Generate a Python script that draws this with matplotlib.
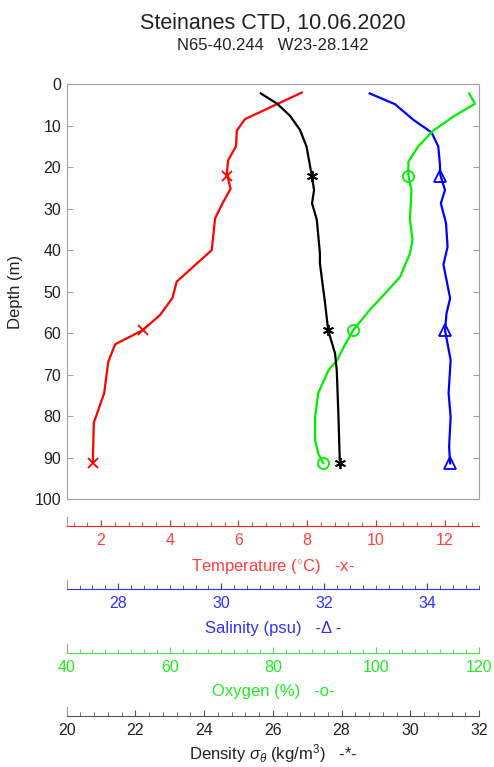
import numpy as np
import matplotlib
matplotlib.use("Agg")
import matplotlib.pyplot as plt
from matplotlib.ticker import MultipleLocator

plt.rcParams['font.family'] = ['Liberation Sans', 'DejaVu Sans']
plt.rcParams['mathtext.fontset'] = 'custom'
plt.rcParams['mathtext.rm'] = 'Liberation Sans'
plt.rcParams['mathtext.it'] = 'Liberation Sans:italic'

# =========================
# DATA
# =========================
temp_depth = [2, 8.4, 11.2, 14.9, 18.3, 21.5, 25.2, 28.3, 32.3, 40, 47.6, 51.5,
              55.6, 59.3, 62.7, 66.9, 74.5, 81.6, 91]
temp_val = [7.84, 6.19, 5.95, 5.93, 5.70, 5.66, 5.77, 5.56, 5.32, 5.22, 4.20, 4.08,
            3.72, 3.21, 2.41, 2.21, 2.09, 1.79, 1.76]

sal_depth = [2.2, 4.8, 8.6, 11.6, 15.0, 19.1, 21.9, 25.5, 28.7, 33.5, 39.2, 43.5,
             51.6, 55.2, 59.3, 66.5, 74.5, 80.2, 87.4, 91.4]
sal_val = [32.88, 33.37, 33.73, 34.08, 34.21, 34.24, 34.25, 34.34, 34.26, 34.36, 34.39, 34.31,
           34.44, 34.37, 34.34, 34.45, 34.41, 34.45, 34.42, 34.44]

oxy_depth = [2.2, 4.7, 7.8, 11.2, 15.0, 18.7, 21.9, 25.5, 32.7, 37.5, 40.8, 46.4,
             50.0, 54.4, 59.3, 63.0, 66.5, 68.9, 74.5, 80.2, 85.8, 89.0, 91.4]
oxy_val = [118.1, 119.2, 115.0, 111.1, 108.2, 106.3, 106.3, 106.9, 106.6, 107.1, 106.6, 104.7,
           102.1, 98.8, 95.6, 93.9, 92.5, 90.8, 88.8, 88.2, 88.2, 88.8, 89.8]

dens_depth = [2.2, 4.7, 7.6, 11.0, 15.0, 21.9, 25.5, 28.7, 32.7, 40.8, 43.2, 52.8,
              59.3, 64.9, 68.9, 80.2, 91.4]
dens_val = [25.65, 26.13, 26.50, 26.79, 26.98, 27.13, 27.20, 27.14, 27.28, 27.37, 27.37, 27.52,
            27.61, 27.81, 27.86, 27.91, 27.95]

# bottle / marker samples
sample_depth = [22, 59.3, 91.2]
sample_temp = [5.66, 3.21, 1.76]
sample_sal = [34.25, 34.34, 34.44]
sample_oxy = [106.3, 95.6, 89.8]
sample_dens = [27.13, 27.61, 27.95]

temp_lim = (1, 13)
sal_lim = (27, 35)
oxy_lim = (40, 120)
dens_lim = (20, 32)

# =========================
# FIGURE
# =========================
W, H = 494, 767
fig = plt.figure(figsize=(W / 100, H / 100), dpi=100)

x0, x1 = 66.7, 479
y_top, y_bot = 84.3, 499

def fx(px):
    return px / W

def fy(py):
    return 1 - py / H

grey = '#a0a0a0'
ax = fig.add_axes([fx(x0), fy(y_bot), fx(x1 - x0), (y_bot - y_top) / H])
ax.set_ylim(100, 0)
ax.set_xlim(*temp_lim)
ax.set_xticks([])
ax.set_yticks(np.arange(0, 101, 10))
ax.tick_params(axis='y', direction='in', length=4, color=grey, left=True, right=True,
               labelsize=11.5, labelcolor='#222222', pad=4)
for s in ax.spines.values():
    s.set_color(grey)
ax.set_ylabel('Depth (m)', fontsize=12, color='#222222', labelpad=8)

# twin axes for each parameter, all sharing depth
ax_s = ax.twiny()
ax_o = ax.twiny()
ax_d = ax.twiny()
for a, lim in [(ax_s, sal_lim), (ax_o, oxy_lim), (ax_d, dens_lim)]:
    a.set_xlim(*lim)
    a.set_xticks([])
    a.axis('off')

lw = 1.6
ax.plot(temp_val, temp_depth, color='#ff0000', lw=lw)
ax.plot(sample_temp, sample_depth, 'x', color='#ff0000', ms=7, mew=1.3)
ax_s.plot(sal_val, sal_depth, color='#0000ff', lw=lw)
ax_s.plot(sample_sal, sample_depth, '^', color='#0000ff', mfc='none', ms=8, mew=1.3)
ax_o.plot(oxy_val, oxy_depth, color='#00ee00', lw=lw)
ax_o.plot(sample_oxy, sample_depth, 'o', color='#00ee00', mfc='none', ms=8, mew=1.3)
ax_d.plot(dens_val, dens_depth, color='black', lw=lw)
ax_d.plot(sample_dens, sample_depth, marker=(6, 2, 0), ls='none', color='black', ms=8, mew=1.3)

fig.text(fx((x0 + x1) / 2), fy(24), 'Steinanes CTD, 10.06.2020', ha='center', va='center',
         fontsize=15.5, color='#222222')
fig.text(fx((x0 + x1) / 2), fy(45), 'N65-40.244   W23-28.142', ha='center', va='center',
         fontsize=12, color='#222222')

# =========================
# SEPARATE X SCALES BELOW
# =========================
scales = [
    (525.7, temp_lim, 2, 0.4, '#ff2020', '#ff4040', r'Temperature ($^{\circ}$C)   -x-', 7),
    (589.0, sal_lim, 2, 0.25, '#3030ff', '#3030ff', 'Salinity (psu)   -\u0394 -', 7),
    (652.7, oxy_lim, 20, 2.5, '#40ee40', '#20ee20', 'Oxygen (%)   -o-', 7),
    (716.0, dens_lim, 2, 0.4, '#555555', '#222222', r'Density $\sigma_\theta$ (kg/m$^3$)   -*-', 3),
]
for ypix, lim, major, minor, col, tcol, label, lpad in scales:
    sa = fig.add_axes([fx(x0), fy(ypix), fx(x1 - x0), 9 / H])
    sa.set_xlim(*lim)
    sa.patch.set_alpha(0)
    sa.set_yticks([])
    sa.spines['top'].set_visible(False)
    sa.spines['right'].set_visible(False)
    sa.spines['left'].set_color(grey)
    sa.spines['bottom'].set_color(col)
    sa.xaxis.set_major_locator(MultipleLocator(major))
    sa.xaxis.set_minor_locator(MultipleLocator(minor))
    sa.tick_params(axis='x', which='major', direction='in', length=4, color=col,
                   labelsize=11.5, labelcolor=tcol, pad=5)
    sa.tick_params(axis='x', which='minor', direction='in', length=3, color=col)
    sa.set_xlabel(label, fontsize=12, color=tcol, labelpad=lpad)

fig.savefig('out.png', dpi=100)
